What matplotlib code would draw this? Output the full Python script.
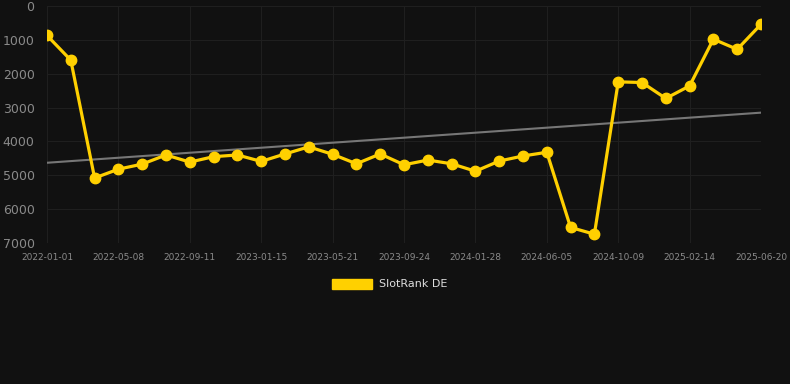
import matplotlib
matplotlib.use("Agg")
import matplotlib.pyplot as plt
import numpy as np
from matplotlib.patches import Patch

tick_labels = ["2022-01-01", "2022-05-08", "2022-09-11", "2023-01-15", "2023-05-21",
               "2023-09-24", "2024-01-28", "2024-06-05", "2024-10-09", "2025-02-14",
               "2025-06-20"]
ranks = [870, 1600, 5080, 4820, 4670, 4400, 4610, 4450, 4400, 4590, 4370,
         4160, 4380, 4660, 4370, 4690, 4550, 4660, 4880, 4580, 4430, 4320,
         6540, 6740, 2240, 2260, 2730, 2360, 980, 1280, 540]
trend_ends = [4630, 3150]
series_name = "SlotRank DE"

bg = "#111111"
fig = plt.figure(figsize=(7.9, 3.84), dpi=100, facecolor=bg)
ax = fig.add_axes([47/790, 1-243/384, (761-47)/790, (243-6)/384], facecolor=bg)

x = np.arange(len(ranks))
ax.plot([x[0], x[-1]], trend_ends, color="#777777", lw=1.5, zorder=2)
ax.plot(x, ranks, color="#FFD000", lw=2.3, marker="o", ms=7.5, zorder=3,
        label=series_name)

ax.set_ylim(7000, 0)
ax.set_xlim(0, len(ranks)-1)
ax.set_yticks(np.arange(0, 7001, 1000))
ax.set_xticks(np.arange(0, len(ranks), 3))
ax.set_xticklabels(tick_labels)
ax.grid(True, color="#1f1f1f", lw=0.8)
for s in ax.spines.values():
    s.set_visible(False)
ax.tick_params(axis="y", colors="#8a8a8a", labelsize=9, length=0, pad=9)
ax.tick_params(axis="x", colors="#8a8a8a", labelsize=6.5, length=0, pad=7)

handle = Patch(facecolor="#FFD000", edgecolor="#FFD000")
fig.legend([handle], [series_name], loc="center", bbox_to_anchor=(390/790, 1-284/384),
           frameon=False, fontsize=8, labelcolor="#dddddd",
           handlelength=3.6, handleheight=1.0, handletextpad=0.6)

fig.savefig("out.png", dpi=100, facecolor=bg)
